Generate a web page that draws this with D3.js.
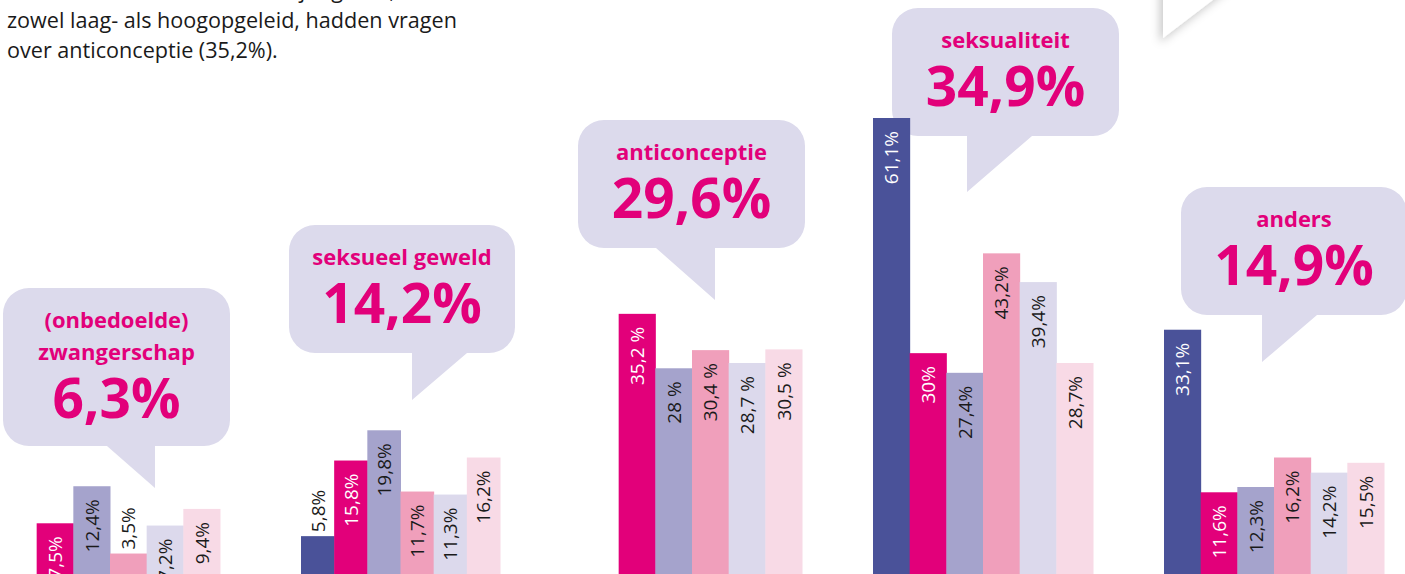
<!DOCTYPE html>
<html>
<head>
<meta charset="utf-8">
<script src="https://cdn.jsdelivr.net/npm/d3@7"></script>
<style>
  html, body { margin: 0; padding: 0; background: #fff; overflow: hidden; }
  svg { display: block; }
</style>
</head>
<body>
<div id="chart"></div>
<script>
// ---------- data
const categories = ["zwangerschap", "seksueel geweld", "anticonceptie", "seksualiteit", "anders"];
const categoryTitles = [["(onbedoelde)", "zwangerschap"], ["seksueel geweld"], ["anticonceptie"], ["seksualiteit"], ["anders"]];
const totals = ["6,3%", "14,2%", "29,6%", "34,9%", "14,9%"];
const series = ["groep1", "groep2", "groep3", "groep4", "groep5", "groep6"];
const values = [
  [null, 7.5, 12.4, 3.5, 7.2, 9.4],
  [5.8, 15.8, 19.8, 11.7, 11.3, 16.2],
  [null, 35.2, 28, 30.4, 28.7, 30.5],
  [61.1, 30, 27.4, 43.2, 39.4, 28.7],
  [33.1, 11.6, 12.3, 16.2, 14.2, 15.5]
];
const valueLabels = [
  [null, "7,5%", "12,4%", "3,5%", "7,2%", "9,4%"],
  ["5,8%", "15,8%", "19,8%", "11,7%", "11,3%", "16,2%"],
  [null, "35,2 %", "28 %", "30,4 %", "28,7 %", "30,5 %"],
  ["61,1%", "30%", "27,4%", "43,2%", "39,4%", "28,7%"],
  ["33,1%", "11,6%", "12,3%", "16,2%", "14,2%", "15,5%"]
];
const introLines = [
  "Meer dan een derde van alle jongeren,",
  "zowel laag- als hoogopgeleid, hadden vragen",
  "over anticonceptie (35,2%)."
];

// ---------- layout
const width = 1405, height = 574;
const colors = ["#4a5299", "#e2007a", "#a5a3cc", "#f09fbb", "#dcd9ec", "#f8dae6"];
const labelColors = ["#ffffff", "#ffffff", "#1a1a1a", "#1a1a1a", "#1a1a1a", "#1a1a1a"];
const magenta = "#e2007a";
const bubbleFill = "#dcdaec";

// bar span inside each group band (null = full band)
const groupSpans = [null, [10, 209], null, null, null];

// bubble boxes relative to group start: dx, top, w, h, tail (x from box left, width, height, side)
const bubbles = [
  {dx: 3, top: 288, w: 227, h: 158, tx: 152, tw: 48, th: 42, side: "right"},
  {dx: -2, top: 225, w: 226, h: 128, tx: 123, tw: 55, th: 47, side: "left"},
  {dx: -4, top: 120, w: 227, h: 128, tx: 137, tw: 59, th: 52, side: "right"},
  {dx: 19, top: 8, w: 227, h: 128, tx: 75, tw: 65, th: 56, side: "left"},
  {dx: 17, top: 187, w: 226, h: 128, tx: 81, tw: 55, th: 47, side: "left"}
];

const svg = d3.select("#chart").append("svg")
  .attr("width", width)
  .attr("height", height)
  .style("font-family", "'Open Sans', sans-serif");

const xGroup = d3.scaleBand()
  .domain(categories)
  .range([0, 1384])
  .paddingInner(0.244);

const y = d3.scaleLinear()
  .domain([0, 61.1])
  .range([580, 118]);

// intro text
svg.append("g").selectAll("text")
  .data(introLines)
  .join("text")
  .attr("x", 7)
  .attr("y", (d, i) => -2 + i * 30)
  .attr("font-size", 21.6)
  .attr("fill", "#1a1a1a")
  .text(d => d);

// shadow filter for the white bubble top right
const defs = svg.append("defs");
const f = defs.append("filter").attr("id", "shadow")
  .attr("x", "-50%").attr("y", "-50%").attr("width", "200%").attr("height", "200%");
f.append("feDropShadow")
  .attr("dx", -3).attr("dy", 4)
  .attr("stdDeviation", 5)
  .attr("flood-color", "#000")
  .attr("flood-opacity", 0.22);

svg.append("path")
  .attr("d", "M1163,-60 L1163,38 L1239,-20 L1400,-20 L1400,-60 Z")
  .attr("fill", "#fff")
  .attr("filter", "url(#shadow)");

// ---------- groups
const groups = svg.selectAll("g.group")
  .data(categories)
  .join("g")
  .attr("class", "group")
  .attr("transform", d => `translate(${xGroup(d)},0)`);

// speech bubbles
groups.each(function(cat, gi) {
  const b = bubbles[gi];
  const g = d3.select(this);
  const x0 = b.dx, y0 = b.top, r = 26;
  const bottom = y0 + b.h;
  const tailX = x0 + b.tx;
  const otherX = b.side === "right" ? tailX - b.tw : tailX + b.tw;

  const p = d3.path();
  p.moveTo(x0 + r, y0);
  p.lineTo(x0 + b.w - r, y0);
  p.arcTo(x0 + b.w, y0, x0 + b.w, y0 + r, r);
  p.lineTo(x0 + b.w, bottom - r);
  p.arcTo(x0 + b.w, bottom, x0 + b.w - r, bottom, r);
  p.lineTo(Math.max(tailX, otherX), bottom);
  if (b.side === "right") {
    p.lineTo(tailX, bottom + b.th);
    p.lineTo(otherX, bottom);
  } else {
    p.lineTo(tailX, bottom + b.th);
    p.lineTo(tailX, bottom);
  }
  p.lineTo(x0 + r, bottom);
  p.arcTo(x0, bottom, x0, bottom - r, r);
  p.lineTo(x0, y0 + r);
  p.arcTo(x0, y0, x0 + r, y0, r);
  p.closePath();

  g.append("path")
    .attr("d", p.toString())
    .attr("fill", bubbleFill);

  const cx = x0 + b.w / 2;
  const lines = categoryTitles[gi];
  g.selectAll("text.title")
    .data(lines)
    .join("text")
    .attr("class", "title")
    .attr("x", cx)
    .attr("y", (d, i) => y0 + 40 + i * 32)
    .attr("text-anchor", "middle")
    .attr("font-size", 22)
    .attr("font-weight", 700)
    .attr("fill", magenta)
    .text(d => d);

  g.append("text")
    .attr("x", cx)
    .attr("y", y0 + 40 + (lines.length - 1) * 32 + 58)
    .attr("text-anchor", "middle")
    .attr("font-size", 55)
    .attr("font-weight", 700)
    .attr("fill", magenta)
    .text(totals[gi]);
});

// bars
groups.each(function(cat, gi) {
  const g = d3.select(this);
  const span = groupSpans[gi] || [0, xGroup.bandwidth()];
  const xBar = d3.scaleBand().domain(series).range(span);
  const rows = series.map((s, i) => ({s, i, v: values[gi][i], label: valueLabels[gi][i]}))
    .filter(d => d.v !== null);

  g.selectAll("rect.bar")
    .data(rows)
    .join("rect")
    .attr("class", "bar")
    .attr("x", d => xBar(d.s))
    .attr("y", d => y(d.v))
    .attr("width", xBar.bandwidth() + 0.5)
    .attr("height", d => y(0) - y(d.v))
    .attr("fill", d => colors[d.i]);

  g.selectAll("text.val")
    .data(rows)
    .join("text")
    .attr("class", "val")
    .attr("transform", d => {
      const inside = d.v >= 6;
      const ty = inside ? y(d.v) + 13 : y(d.v) - 4;
      return `translate(${xBar(d.s) + xBar.bandwidth() / 2 + 7},${ty}) rotate(-90)`;
    })
    .attr("text-anchor", d => d.v >= 6 ? "end" : "start")
    .attr("font-size", 19)
    .attr("fill", d => d.v >= 6 ? labelColors[d.i] : "#1a1a1a")
    .text(d => d.label);
});
</script>
</body>
</html>
